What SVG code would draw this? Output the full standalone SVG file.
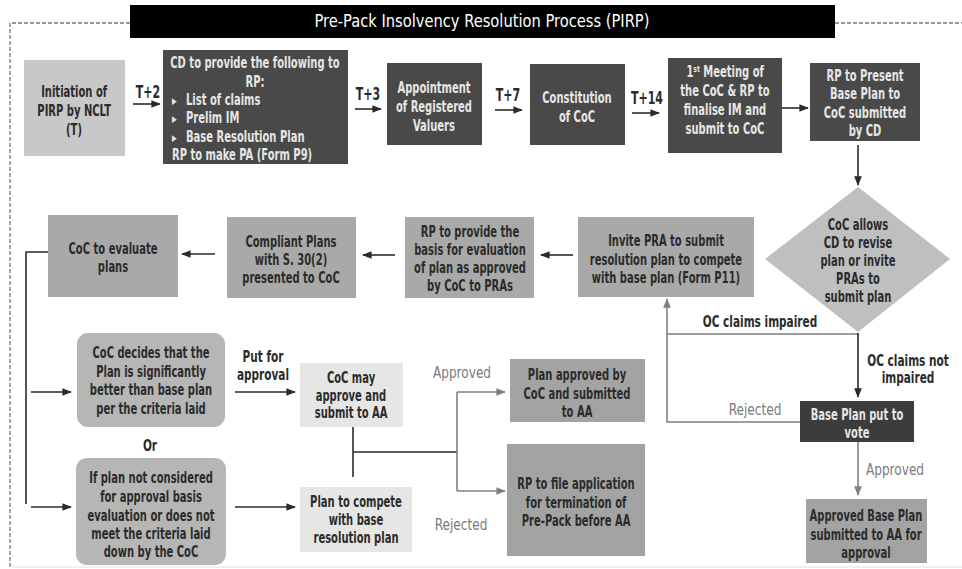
<svg xmlns="http://www.w3.org/2000/svg" width="962" height="569" viewBox="0 0 962 569">
<style>
text{font-family:"DejaVu Sans Condensed","Liberation Sans",sans-serif;font-weight:bold;font-size:15px;text-anchor:middle;fill:#2b2b2b;transform-box:fill-box;transform-origin:center;transform:scaleX(0.74)}
.s{text-anchor:start;transform-origin:left center}
.w{fill:#e6e6e6}
.g{fill:#7a7a7a;font-weight:normal;font-size:15px;transform:scaleX(0.9)}
.l{font-size:15px;transform:scaleX(0.78)}
.t{font-size:17px;transform:scaleX(0.72)}
.ln{stroke:#2b2b2b;stroke-width:1.6;fill:none}
.lg{stroke:#808080;stroke-width:1.6;fill:none}
.dark{fill:#494949}
</style>
<defs>
<marker id="ab" viewBox="0 0 10 10" refX="9" refY="5" markerWidth="6" markerHeight="6" orient="auto"><path d="M0,1 L10,5 L0,9 Z" fill="#2b2b2b"/></marker>
<marker id="ag" viewBox="0 0 10 10" refX="9" refY="5" markerWidth="6" markerHeight="6" orient="auto"><path d="M0,1 L10,5 L0,9 Z" fill="#808080"/></marker>
</defs>
<rect width="962" height="569" fill="#fff"/>
<g id="frame">
<path d="M130,23 H10 V567" stroke="#777" stroke-width="1.3" stroke-dasharray="4,2" fill="none"/>
<path d="M835,23 H962" stroke="#777" stroke-width="1.3" stroke-dasharray="4,2" fill="none"/>
<path d="M10,567 H962" stroke="#e0e0e0" stroke-width="1"/>
</g>
<g id="title">
<rect x="130" y="5" width="705" height="33" fill="#000"/>
<text x="482" y="27" style="fill:#fff;font-size:17px;font-weight:normal;transform:scaleX(0.96)">Pre-Pack Insolvency Resolution Process (PIRP)</text>
</g>
<g id="connectors">
<path class="ln" d="M133,104 H160" marker-end="url(#ab)"/>
<path class="ln" d="M355,109 H381" marker-end="url(#ab)"/>
<path class="ln" d="M495,110 H522" marker-end="url(#ab)"/>
<path class="ln" d="M632,113 H659" marker-end="url(#ab)"/>
<path class="ln" d="M782,108 H808" marker-end="url(#ab)"/>
<path class="ln" d="M858,145 V185" marker-end="url(#ab)"/>
<path class="ln" d="M215,254 H182" marker-end="url(#ab)"/>
<path class="ln" d="M395,255 H363" marker-end="url(#ab)"/>
<path class="ln" d="M573,255 H541" marker-end="url(#ab)"/>
<path class="lg" d="M858,334 H667 V422 H800"/>
<path class="lg" d="M667,334 V299" marker-end="url(#ag)"/>
<path class="ln" d="M858,333 V397" marker-end="url(#ab)"/>
<path class="lg" d="M858,442 V495" marker-end="url(#ag)"/>
<path class="ln" d="M48,252 H26 V504"/>
<path class="ln" d="M31,392 H71" marker-end="url(#ab)"/>
<path class="ln" d="M31,507 H71" marker-end="url(#ab)"/>
<path class="ln" d="M235,392 H295" marker-end="url(#ab)"/>
<path class="ln" d="M235,507 H295" marker-end="url(#ab)"/>
<path class="ln" d="M353,427 V477 M353,452 H457"/>
<path class="lg" d="M457,392 V491"/>
<path class="lg" d="M457,392 H505" marker-end="url(#ag)"/>
<path class="lg" d="M457,491 H505" marker-end="url(#ag)"/>
<text x="148" y="98" class="t">T+2</text>
<text x="368" y="100" class="t">T+3</text>
<text x="508" y="101" class="t">T+7</text>
<text x="647" y="104" class="t">T+14</text>
<text x="760" y="327" class="l">OC claims impaired</text>
<text x="908" y="366" class="l">OC claims not</text>
<text x="908" y="383" class="l">impaired</text>
<text x="755" y="415" class="g">Rejected</text>
<text x="895" y="475" class="g">Approved</text>
<text x="263" y="362" class="l">Put for</text>
<text x="263" y="380" class="l">approval</text>
<text x="462" y="378" class="g">Approved</text>
<text x="461" y="530" class="g">Rejected</text>
<text x="150" y="451" class="l">Or</text>
</g>
<g id="n1">
<rect x="24" y="60" width="101" height="96" fill="#c8c8c8"/>
<text x="74" y="97">Initiation of</text>
<text x="74" y="116">PIRP by NCLT</text>
<text x="74" y="135">(T)</text>
</g>
<g id="n2">
<rect x="163" y="50" width="185" height="114" class="dark"/>
<text x="255" y="68" class="w">CD to provide the following to</text>
<text x="255" y="87" class="w">RP:</text>
<text x="172" y="104" class="w s" style="font-size:9px">▶</text>
<text x="186" y="105" class="w s">List of claims</text>
<text x="172" y="122" class="w s" style="font-size:9px">▶</text>
<text x="186" y="123" class="w s">Prelim IM</text>
<text x="172" y="141" class="w s" style="font-size:9px">▶</text>
<text x="186" y="142" class="w s">Base Resolution Plan</text>
<text x="172" y="160" class="w s">RP to make PA (Form P9)</text>
</g>
<g id="n3">
<rect x="387" y="63" width="95" height="82" class="dark"/>
<text x="434" y="93" class="w">Appointment</text>
<text x="434" y="112" class="w">of Registered</text>
<text x="434" y="131" class="w">Valuers</text>
</g>
<g id="n4">
<rect x="530" y="64" width="95" height="81" class="dark"/>
<text x="577" y="103" class="w">Constitution</text>
<text x="577" y="122" class="w">of CoC</text>
</g>
<g id="n5">
<rect x="668" y="58" width="114" height="95" class="dark"/>
<text x="725" y="77" class="w">1<tspan dy="-5" font-size="9">st</tspan><tspan dy="5"> Meeting of</tspan></text>
<text x="725" y="96" class="w">the CoC  &amp; RP to</text>
<text x="725" y="115" class="w">finalise IM and</text>
<text x="725" y="134" class="w">submit to CoC</text>
</g>
<g id="n6">
<rect x="810" y="63" width="110" height="78" class="dark"/>
<text x="865" y="81" class="w">RP to Present</text>
<text x="865" y="99" class="w">Base Plan to</text>
<text x="865" y="118" class="w">CoC submitted</text>
<text x="865" y="136" class="w">by CD</text>
</g>
<g id="n7">
<polygon points="858,187 950,259 858,332 765,259" fill="#bfbfbf"/>
<text x="858" y="230">CoC allows</text>
<text x="858" y="248">CD to revise</text>
<text x="858" y="266">plan or invite</text>
<text x="858" y="284">PRAs to</text>
<text x="858" y="302">submit plan</text>
</g>
<g id="n8">
<rect x="578" y="217" width="176" height="80" fill="#a9a9a9"/>
<text x="666" y="246">Invite PRA to submit</text>
<text x="666" y="265">resolution plan to compete</text>
<text x="666" y="283">with base plan (Form P11)</text>
</g>
<g id="n9">
<rect x="405" y="217" width="129" height="81" fill="#a9a9a9"/>
<text x="470" y="237">RP to provide the</text>
<text x="470" y="255">basis for evaluation</text>
<text x="470" y="273">of plan as approved</text>
<text x="470" y="291">by CoC to PRAs</text>
</g>
<g id="n10">
<rect x="227" y="217" width="129" height="81" fill="#a9a9a9"/>
<text x="291" y="247">Compliant Plans</text>
<text x="291" y="265">with S. 30(2)</text>
<text x="291" y="283">presented to CoC</text>
</g>
<g id="n11">
<rect x="48" y="215" width="130" height="82" fill="#a9a9a9"/>
<text x="113" y="254">CoC to evaluate</text>
<text x="113" y="272">plans</text>
</g>
<g id="n12">
<rect x="77" y="333" width="148" height="94" rx="11" fill="#b6b6b6"/>
<text x="151" y="358">CoC decides that the</text>
<text x="151" y="377">Plan is significantly</text>
<text x="151" y="395">better than base plan</text>
<text x="151" y="414">per the criteria laid</text>
</g>
<g id="n13">
<rect x="76" y="458" width="150" height="107" rx="11" fill="#b6b6b6"/>
<text x="151" y="483">If plan not considered</text>
<text x="151" y="502">for approval basis</text>
<text x="151" y="521">evaluation or does not</text>
<text x="151" y="539">meet the criteria laid</text>
<text x="151" y="557">down by the CoC</text>
</g>
<g id="n14">
<rect x="300" y="363" width="103" height="64" fill="#e6e6e6"/>
<text x="351" y="383">CoC may</text>
<text x="351" y="401">approve  and</text>
<text x="351" y="418">submit to AA</text>
</g>
<g id="n15">
<rect x="300" y="487" width="112" height="65" fill="#e6e6e6"/>
<text x="356" y="507">Plan to compete</text>
<text x="356" y="525">with base</text>
<text x="356" y="543">resolution plan</text>
</g>
<g id="n16">
<rect x="510" y="359" width="135" height="63" fill="#a3a3a3"/>
<text x="577" y="380">Plan approved by</text>
<text x="577" y="399">CoC and submitted</text>
<text x="577" y="417">to AA</text>
</g>
<g id="n17">
<rect x="507" y="444" width="138" height="112" fill="#a3a3a3"/>
<text x="576" y="489">RP to file application</text>
<text x="576" y="508">for termination of</text>
<text x="576" y="526">Pre-Pack before AA</text>
</g>
<g id="n18">
<rect x="800" y="401" width="114" height="41" fill="#3c3c3c"/>
<text x="857" y="420" class="w">Base Plan put to</text>
<text x="857" y="438" class="w">vote</text>
</g>
<g id="n19">
<rect x="806" y="499" width="121" height="64" fill="#a3a3a3"/>
<text x="866" y="521">Approved Base Plan</text>
<text x="866" y="540">submitted to AA for</text>
<text x="866" y="558">approval</text>
</g>
</svg>
